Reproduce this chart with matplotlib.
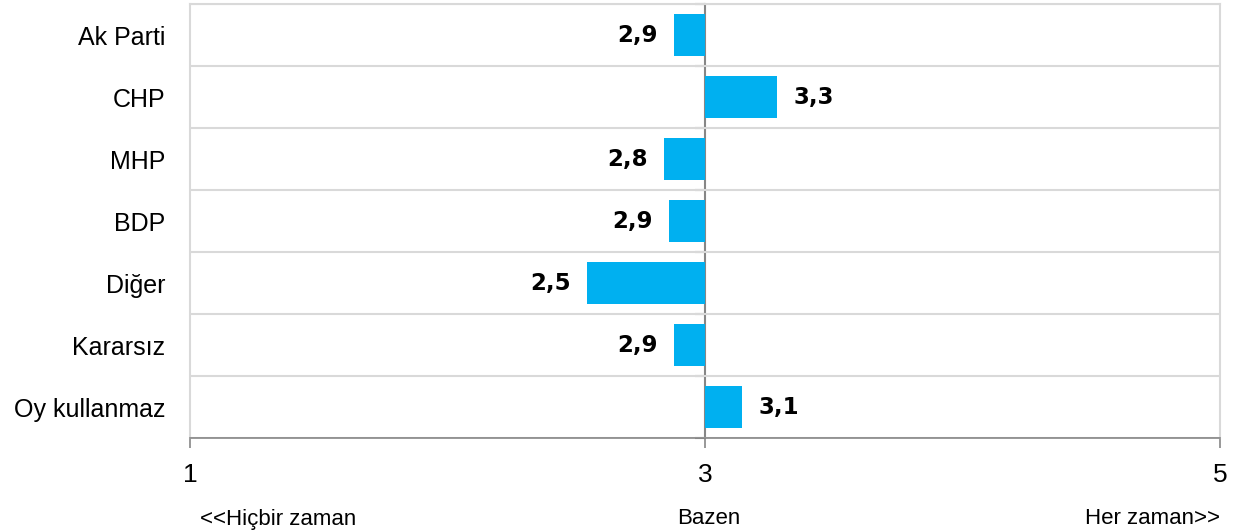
import matplotlib
matplotlib.use("Agg")
import numpy as np
import matplotlib.pyplot as plt

categories = ["Ak Parti", "CHP", "MHP", "BDP", "Diğer", "Kararsız", "Oy kullanmaz"]
values = [2.88, 3.28, 2.84, 2.86, 2.54, 2.88, 3.145]
x_ticks = [1, 3, 5]
scale_labels = ["<<Hiçbir zaman", "Bazen", "Her zaman>>"]

BASE = 3
BAR_COLOR = "#00B0F0"
GRID = "#d9d9d9"
AXIS = "#868686"

plt.rcParams["font.family"] = ["Liberation Sans", "DejaVu Sans"]

fig = plt.figure(figsize=(12.42, 5.31), dpi=100)
ax = fig.add_axes([190 / 1242, 93 / 531, 1030 / 1242, 434 / 531])

y = np.arange(len(categories))
widths = [v - BASE for v in values]
ax.barh(y, widths, left=BASE, height=0.68, color=BAR_COLOR, zorder=3)

# value labels: outside the bar end
for yi, v in zip(y, values):
    txt = f"{v:.1f}".replace(".", ",")
    off = -11.5 if v < BASE else 11.5
    ax.annotate(txt, (v, yi), xytext=(off, 0), textcoords="offset points",
                ha="right" if v < BASE else "left", va="center",
                fontsize=16.5, fontweight="bold", family="DejaVu Sans",
                color="black")

ax.set_xlim(1, 5)
ax.set_ylim(len(categories) - 0.5, -0.5)

ax.set_yticks(y)
ax.set_yticklabels(categories, fontsize=18)
ax.tick_params(axis="y", length=0, pad=18)
ax.set_yticks(np.arange(-0.5, len(categories)), minor=True)
ax.tick_params(axis="y", which="minor", length=0)
ax.grid(True, axis="y", which="minor", color=GRID, linewidth=1.5, zorder=0)

ax.set_xticks(x_ticks)
ax.set_xticklabels([str(t) for t in x_ticks], fontsize=19)
ax.tick_params(axis="x", direction="out", length=7, color=AXIS, width=1.2, pad=11)

for side in ["left", "right", "top"]:
    ax.spines[side].set_color(GRID)
    ax.spines[side].set_linewidth(1.5)
ax.spines["bottom"].set_color(AXIS)
ax.spines["bottom"].set_linewidth(1.2)

# central axis at 3 with boundary ticks
sec = ax.secondary_yaxis((BASE - 1) / (5 - 1))
sec.set_yticks(np.arange(-0.5, len(categories)))
sec.set_yticklabels([])
sec.tick_params(axis="y", which="both", direction="out", length=7,
                color=AXIS, width=1.5, left=True, right=False)
for sp in sec.spines.values():
    sp.set_color(AXIS)
    sp.set_linewidth(1.5)
    sp.set_zorder(4)

# scale descriptions under the ticks
fig.text(200 / 1242, 1 - 519 / 531, scale_labels[0], ha="left", va="center", fontsize=16)
fig.text(709 / 1242, 1 - 519 / 531, scale_labels[1], ha="center", va="center", fontsize=16)
fig.text(1220 / 1242, 1 - 519 / 531, scale_labels[2], ha="right", va="center", fontsize=16)

fig.savefig("out.png", dpi=100)
plt.close(fig)
